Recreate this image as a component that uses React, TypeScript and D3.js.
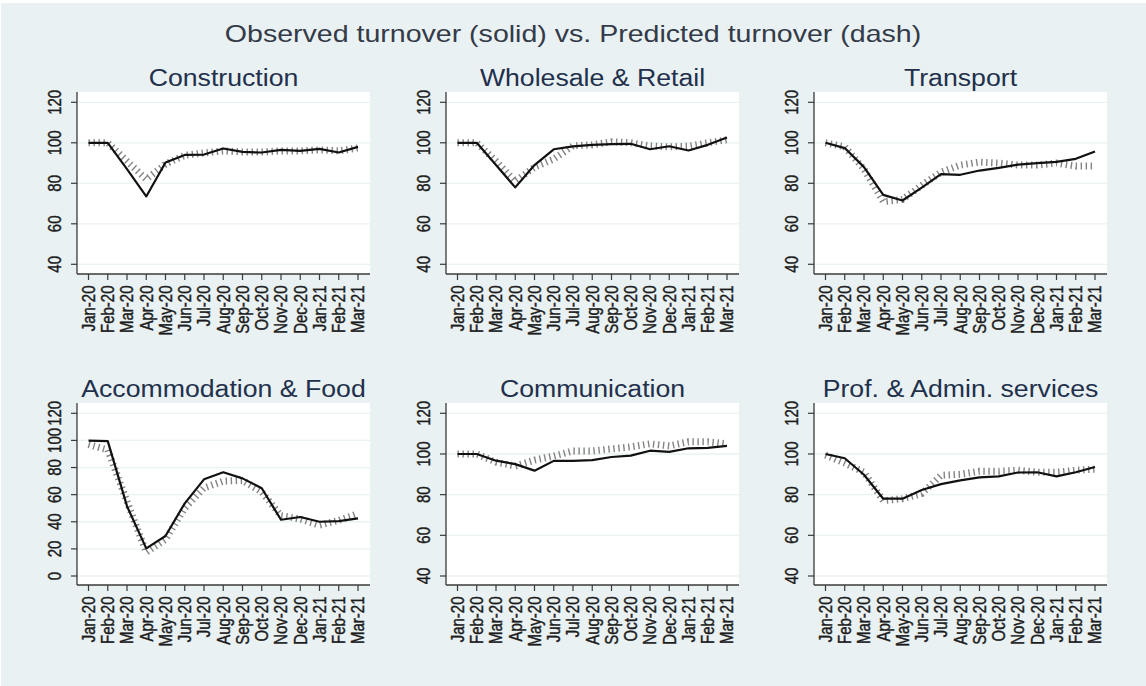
import React from "react";
import * as d3 from "d3";

const months = ["Jan-20","Feb-20","Mar-20","Apr-20","May-20","Jun-20","Jul-20","Aug-20","Sep-20","Oct-20","Nov-20","Dec-20","Jan-21","Feb-21","Mar-21"];

const constructionObs = [100,100,87,73.5,90.3,94,94.2,97.2,95.5,95.2,96.5,96,97,95.2,98];
const constructionPred = [100,100,91,82,89.5,93.8,95,96,95.5,95.5,96,96,96.5,96,97.5];
const wholesaleObs = [100,100,89,78,89,96.8,98.2,99,99.3,99.5,96.8,98.3,96.2,99,102.6];
const wholesalePred = [100,100,91,81,88,92,98.5,99,100.5,100,98.5,98,98.3,100,101.5];
const transportObs = [100,97.4,88,74.3,71.5,77.9,84.5,84.2,86.3,87.6,89.2,90,90.6,92.1,95.7];
const transportPred = [100,98,87,71,72,79,85.5,89,90.5,90,89,89,90,88.5,88.5];
const accommodationObs = [99.8,99.5,51.5,20.4,29.5,53.6,71.3,76.5,72,64.7,41.5,43.5,40,40.5,42.5];
const accommodationPred = [97,93,55,17.5,27,50,65,70,70.5,62,44.5,42,37.5,41,46];
const communicationObs = [100,100,96.7,95,91.8,96.6,96.6,97,98.5,99.2,101.6,101,102.8,103,104];
const communicationPred = [100,100,96,94,97,99,101.5,101.5,102.5,103.5,105,104,106,106,105];
const profObs = [100,97.9,89.8,78,78,82.3,85.2,87,88.5,89,90.9,91,89,91,93.6];
const profPred = [99.5,95.5,91,77,78,80.5,89.5,90,91.5,91.5,92,91,91,92,92.5];

const ticksStd = [40,60,80,100,120];
const ticksAcc = [0,20,40,60,80,100,120];

const titleMain = "Observed turnover (solid) vs. Predicted turnover (dash)";

const FONT = "'Liberation Sans', Arial, Helvetica, sans-serif";
const SX = 1.16;

type Panel = {
  title: string;
  obs: number[];
  pred: number[];
  ticks: number[];
  col: number;
  row: number;
};

const panels: Panel[] = [
  { title: "Construction", obs: constructionObs, pred: constructionPred, ticks: ticksStd, col: 0, row: 0 },
  { title: "Wholesale & Retail", obs: wholesaleObs, pred: wholesalePred, ticks: ticksStd, col: 1, row: 0 },
  { title: "Transport", obs: transportObs, pred: transportPred, ticks: ticksStd, col: 2, row: 0 },
  { title: "Accommodation & Food", obs: accommodationObs, pred: accommodationPred, ticks: ticksAcc, col: 0, row: 1 },
  { title: "Communication", obs: communicationObs, pred: communicationPred, ticks: ticksStd, col: 1, row: 1 },
  { title: "Prof. & Admin. services", obs: profObs, pred: profPred, ticks: ticksStd, col: 2, row: 1 },
];

const lefts = [77, 446, 814];
const plotW = 293;
const rowGeom = [
  { top: 92, bottom: 274, t0: 264.3, t1: 102.3, titleY: 86 },
  { top: 403, bottom: 585, t0: 576, t1: 413.3, titleY: 396.5 },
];

function PanelView({ p }: { p: Panel }) {
  const left = lefts[p.col];
  const right = left + plotW;
  const g = rowGeom[p.row];
  const lo = p.ticks[0];
  const hi = p.ticks[p.ticks.length - 1];
  const y = d3.scaleLinear().domain([lo, hi]).range([g.t0, g.t1]);
  const x = d3.scalePoint<string>().domain(months).range([left + 11.5, right - 12]);
  const line = d3
    .line<number>()
    .x((_, i) => x(months[i]) as number)
    .y((d) => y(d));
  const cx = (left + right) / 2;
  return (
    <g>
      <rect x={left} y={g.top} width={plotW} height={g.bottom - g.top} fill="#ffffff" />
      {p.ticks.map((t) => (
        <line key={"g" + t} x1={left} x2={right} y1={y(t)} y2={y(t)} stroke="#eaf2f3" strokeWidth={1.3} />
      ))}
      <path d={line(p.pred) || ""} fill="none" stroke="#767676" strokeWidth={7} strokeDasharray="1.4 3.6" strokeOpacity={0.9} />
      <path d={line(p.obs) || ""} fill="none" stroke="#111111" strokeWidth={2.2} strokeLinejoin="round" />
      <line x1={left} x2={left} y1={g.top} y2={g.bottom} stroke="#3a3a3a" strokeWidth={1.3} />
      <line x1={left} x2={right} y1={g.bottom} y2={g.bottom} stroke="#3a3a3a" strokeWidth={1.3} />
      {p.ticks.map((t) => (
        <g key={"yt" + t}>
          <line x1={left - 6} x2={left} y1={y(t)} y2={y(t)} stroke="#3a3a3a" strokeWidth={1.2} />
          <text
            transform={`translate(${left - 16.3},${y(t)}) scale(1.2,1) rotate(-90)`}
            textAnchor="middle"
            fontFamily={FONT}
            fontSize={15}
            fill="#1c1c1c"
            stroke="#1c1c1c"
            strokeWidth={0.35}
          >
            {t}
          </text>
        </g>
      ))}
      {months.map((m) => {
        const xx = x(m) as number;
        return (
          <g key={"xt" + m}>
            <line x1={xx} x2={xx} y1={g.bottom} y2={g.bottom + 6} stroke="#3a3a3a" strokeWidth={1.2} />
            <text
              transform={`translate(${xx},${g.bottom + 11.5}) scale(1.2,1) rotate(-90)`}
              textAnchor="end"
              dy="0.36em"
              fontFamily={FONT}
              fontSize={15}
              fill="#1c1c1c"
              stroke="#1c1c1c"
              strokeWidth={0.35}
            >
              {m}
            </text>
          </g>
        );
      })}
      <text
        transform={`translate(${cx},${g.titleY}) scale(${SX},1)`}
        textAnchor="middle"
        fontFamily={FONT}
        fontSize={23}
        fill="#22304c"
      >
        {p.title}
      </text>
    </g>
  );
}

export default function App() {
  return (
    <svg
      width={1146}
      height={686}
      style={{ position: "absolute", left: 0, top: 0, display: "block" }}
      xmlns="http://www.w3.org/2000/svg"
    >
      <rect x={0} y={0} width={1146} height={686} fill="#ffffff" />
      <rect x={1} y={3} width={1145} height={683} fill="#e9f1f3" />
      <text
        transform={`translate(573,41.5) scale(1.19,1)`}
        textAnchor="middle"
        fontFamily={FONT}
        fontSize={24}
        fill="#343a48"
      >
        {titleMain}
      </text>
      {panels.map((p) => (
        <PanelView key={p.title} p={p} />
      ))}
    </svg>
  );
}
